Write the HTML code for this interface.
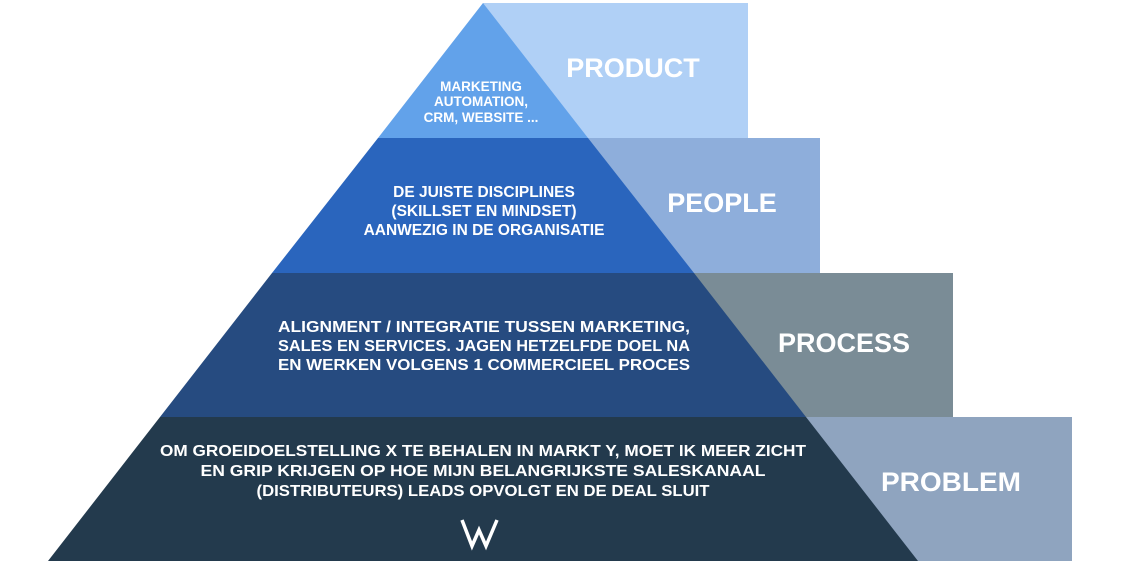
<!DOCTYPE html>
<html><head><meta charset="utf-8"><style>
html,body{margin:0;padding:0;background:#fff;}
svg{display:block;}
text{font-family:"Liberation Sans",Arial,sans-serif;font-weight:bold;fill:#fff;text-anchor:middle;}
</style></head><body>
<svg width="1130" height="572" viewBox="0 0 1130 572">
<rect x="483" y="3" width="265" height="135" fill="#b0d0f6"/>
<rect x="588" y="138" width="232" height="135" fill="#8eaedb"/>
<rect x="694" y="273" width="259" height="144" fill="#7a8c96"/>
<rect x="806" y="417" width="266" height="144" fill="#8fa4bf"/>
<polygon points="483,3 588,138 378,138" fill="#62a2ea"/>
<polygon points="378,138 588,138 694,273 272,273" fill="#2a65bd"/>
<polygon points="272,273 694,273 806,417 160,417" fill="#264b80"/>
<polygon points="160,417 806,417 918,561 48,561" fill="#233a4d"/>
<text x="633" y="77" font-size="27">PRODUCT</text>
<text x="722" y="212" font-size="27">PEOPLE</text>
<text x="844" y="352" font-size="27">PROCESS</text>
<text x="951" y="491" font-size="27" textLength="140" lengthAdjust="spacingAndGlyphs">PROBLEM</text>
<g font-size="13.5">
<text x="481" y="91">MARKETING</text>
<text x="481" y="106">AUTOMATION,</text>
<text x="481" y="122">CRM, WEBSITE ...</text>
</g>
<g font-size="15.5">
<text x="484" y="197">DE JUISTE DISCIPLINES</text>
<text x="484" y="216">(SKILLSET EN MINDSET)</text>
<text x="484" y="235">AANWEZIG IN DE ORGANISATIE</text>
</g>
<g font-size="15.5">
<text x="484" y="332" textLength="412" lengthAdjust="spacingAndGlyphs">ALIGNMENT / INTEGRATIE TUSSEN MARKETING,</text>
<text x="484" y="351" textLength="412" lengthAdjust="spacingAndGlyphs">SALES EN SERVICES. JAGEN HETZELFDE DOEL NA</text>
<text x="484" y="370" textLength="412" lengthAdjust="spacingAndGlyphs">EN WERKEN VOLGENS 1  COMMERCIEEL PROCES</text>
</g>
<g font-size="16">
<text x="483" y="456" textLength="646" lengthAdjust="spacingAndGlyphs">OM GROEIDOELSTELLING X TE BEHALEN IN MARKT Y, MOET IK MEER ZICHT</text>
<text x="483" y="476" textLength="565" lengthAdjust="spacingAndGlyphs">EN GRIP KRIJGEN OP HOE MIJN BELANGRIJKSTE SALESKANAAL</text>
<text x="483" y="496" textLength="453" lengthAdjust="spacingAndGlyphs">(DISTRIBUTEURS) LEADS OPVOLGT EN DE DEAL SLUIT</text>
</g>
<path d="M462,520 L472,546 L479,530 L486,546 L497,520" fill="none" stroke="#fff" stroke-width="3.5"/>
</svg>
</body></html>
